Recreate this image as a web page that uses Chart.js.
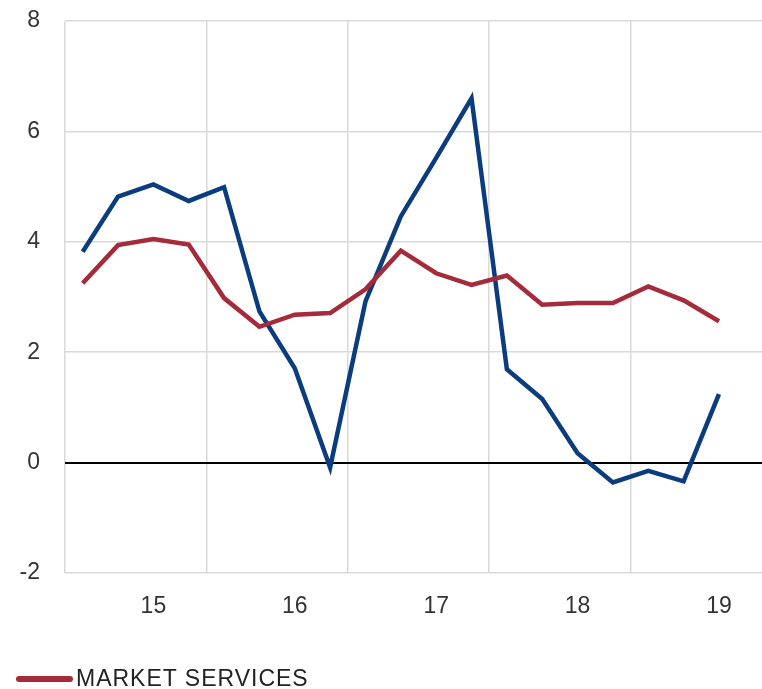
<!DOCTYPE html>
<html>
<head>
<meta charset="utf-8">
<script src="https://cdn.jsdelivr.net/npm/chart.js@4.4.1/dist/chart.umd.min.js"></script>
<style>
  html, body { margin: 0; padding: 0; background: #fff; overflow: hidden; }
  #wrap { position: relative; width: 772px; height: 689px; }
  #legend { position: absolute; left: 16px; top: 665px; font: 23px "Liberation Sans", Arial, sans-serif; letter-spacing: 1px; color: #222; white-space: nowrap; line-height: 26px; }
  #legend .line { display: inline-block; width: 57px; height: 6px; border-radius: 3px; background: #a52a3a; vertical-align: middle; margin-right: 3px; position: relative; top: -1px; }
</style>
</head>
<body>
<div id="wrap">
  <canvas id="chart" width="772" height="689"></canvas>
  <div id="legend"><span class="line"></span>MARKET SERVICES</div>
</div>
<script>
// Quarters 2015Q1 .. 2019Q4
const quarters = [
  '2015Q1','2015Q2','2015Q3','2015Q4',
  '2016Q1','2016Q2','2016Q3','2016Q4',
  '2017Q1','2017Q2','2017Q3','2017Q4',
  '2018Q1','2018Q2','2018Q3','2018Q4',
  '2019Q1','2019Q2','2019Q3','2019Q4'
];

// blue series (legend not visible in the picture)
const blueValues = [3.82, 4.82, 5.04, 4.74, 4.99, 2.74, 1.71, -0.09, 2.92, 4.46, 5.52, 6.60,
  1.69, 1.15, 0.17, -0.36, -0.15, -0.34, 1.24, null];

// market services
const redValues = [3.25, 3.94, 4.05, 3.95, 2.98, 2.46, 2.68, 2.71, 3.14, 3.84, 3.43, 3.22,
  3.39, 2.86, 2.89, 2.89, 3.19, 2.94, 2.56, null];

const yTicks = [-2, 0, 2, 4, 6, 8];

const fontFamily = '"Liberation Sans", Arial, sans-serif';
const gridGrey = '#d9d9d9';

new Chart(document.getElementById('chart'), {
  type: 'line',
  data: {
    labels: quarters,
    datasets: [
      {
        label: 'MARKET SERVICES',
        data: redValues,
        borderColor: '#a52a3a',
        borderWidth: 4.5,
        pointRadius: 0,
        tension: 0
      },
      {
        label: '',
        data: blueValues,
        borderColor: '#0b3d7e',
        borderWidth: 4.5,
        pointRadius: 0,
        tension: 0
      }
    ]
  },
  options: {
    responsive: false,
    animation: false,
    layout: { padding: { left: 0, right: 0, top: 21, bottom: 56 } },
    plugins: {
      legend: { display: false },
      tooltip: { enabled: false }
    },
    scales: {
      x: {
        type: 'category',
        offset: true,
        border: { display: false },
        grid: {
          offset: true,
          drawTicks: false,
          lineWidth: 1.5,
          color: ctx => (ctx.index % 4 === 0 ? gridGrey : 'rgba(0,0,0,0)')
        },
        ticks: {
          autoSkip: false,
          maxRotation: 0,
          padding: 20,
          color: '#333',
          font: { family: fontFamily, size: 23 },
          callback: function (val, i) {
            const q = quarters[i];
            return q.endsWith('Q3') ? q.slice(2, 4) : '';
          }
        },
        afterFit: axis => { axis.height = 60; axis.paddingLeft = 0; axis.paddingRight = 0; }
      },
      y: {
        min: -2,
        max: 8,
        border: { display: false },
        afterBuildTicks: axis => { axis.ticks = yTicks.map(v => ({ value: v })); },
        grid: {
          drawTicks: false,
          lineWidth: ctx => (ctx.tick && ctx.tick.value === 0 ? 2 : 1.5),
          color: ctx => (ctx.tick && ctx.tick.value === 0 ? '#000' : gridGrey)
        },
        ticks: {
          padding: 25,
          color: '#333',
          font: { family: fontFamily, size: 23 }
        },
        afterFit: axis => { axis.width = 65; axis.paddingTop = 0; axis.paddingBottom = 0; }
      }
    }
  }
});
</script>
</body>
</html>
